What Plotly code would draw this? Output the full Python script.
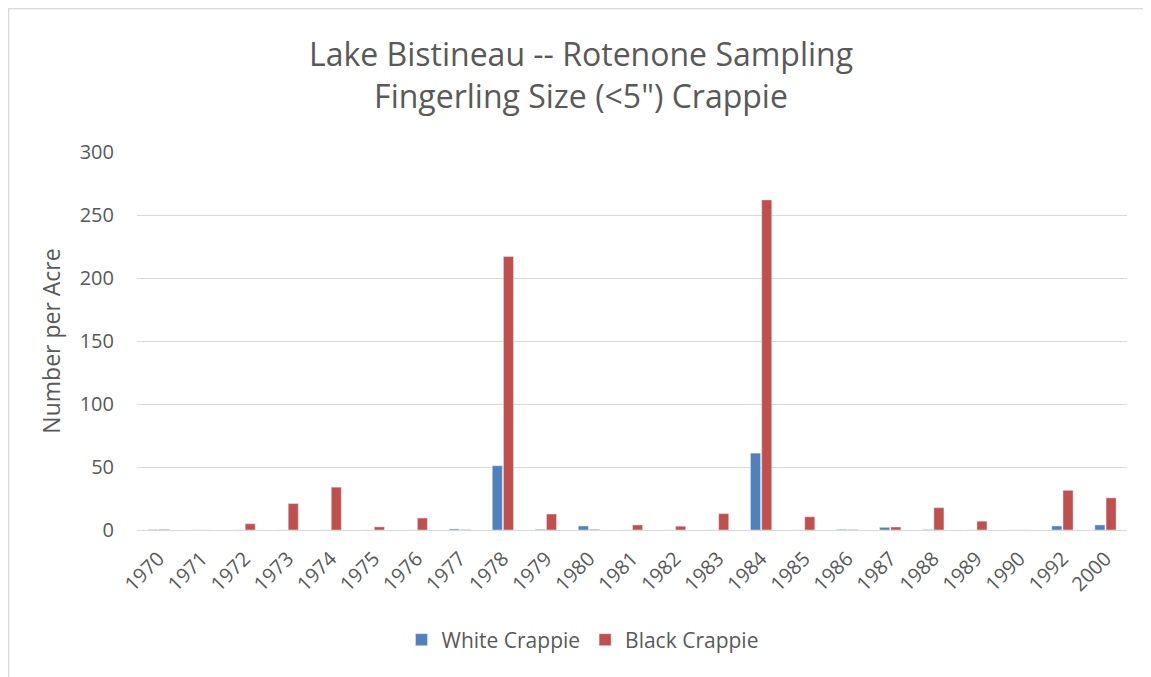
import plotly.graph_objects as go

years = ["1970", "1971", "1972", "1973", "1974", "1975", "1976", "1977", "1978", "1979",
         "1980", "1981", "1982", "1983", "1984", "1985", "1986", "1987", "1988", "1989",
         "1990", "1992", "2000"]
white_crappie = [0.3, 0, 0, 0, 0, 0, 0, 0.8, 51, 0.5,
                 3.2, 0, 0, 0, 61, 0, 0.5, 2.1, 0.3, 0,
                 0, 3.2, 4]
black_crappie = [0.5, 0, 5, 21, 34, 2.5, 9.5, 0.3, 217, 12.7,
                 0.5, 4, 3, 13, 262, 10.5, 0.3, 2.4, 17.7, 7,
                 0, 31.5, 25.5]
y_ticks = [0, 50, 100, 150, 200, 250, 300]

FONT = "Open Sans"
GREY = "#595959"

W, H = 1151, 677
L, T, R, B = 129, 144, 32, 155
PW = W - L - R
PH = H - T - B

fig = go.Figure()
fig.add_trace(go.Bar(name="White Crappie", x=years, y=white_crappie, marker_color="#4F81BD"))
fig.add_trace(go.Bar(name="Black Crappie", x=years, y=black_crappie, marker_color="#C0504D"))

fig.update_layout(
    width=W, height=H,
    paper_bgcolor="white", plot_bgcolor="white",
    margin=dict(l=L, r=R, t=T, b=B, autoexpand=False),
    barmode="group", bargap=0.48, bargroupgap=0.1,
    font=dict(family=FONT, color=GREY),
    title=dict(text="Lake Bistineau -- Rotenone Sampling<br>Fingerling Size (<5\") Crappie",
               x=573 / W, xanchor="center", y=1 - 58 / H, yanchor="middle",
               font=dict(size=32, color=GREY, family=FONT)),
    legend=dict(orientation="h", x=(574.5 - L) / PW, xanchor="center",
                y=-(632 - (T + PH)) / PH, yanchor="middle",
                font=dict(size=21, color=GREY), itemwidth=30),
    yaxis=dict(range=[0, 300], tickvals=y_ticks, showgrid=True, gridcolor="#D9D9D9",
               gridwidth=1, zeroline=False, showline=False, automargin=False,
               tickfont=dict(size=20, color=GREY), ticklabelstandoff=22,
               title=dict(text="Number per Acre", font=dict(size=23, color=GREY), standoff=12)),
    xaxis=dict(showline=True, linecolor="#D9D9D9", linewidth=1, tickangle=-45,
               automargin=False, tickfont=dict(size=20, color=GREY), type="category",
               ticklabelstandoff=8),
    shapes=[dict(type="rect", xref="paper", yref="paper",
                 x0=(0.5 - L) / PW, x1=(W + 20 - L) / PW,
                 y0=-(H + 20 - T - PH) / PH, y1=(T + PH - 0.5) / PH,
                 line=dict(color="#D9D9D9", width=1.5), fillcolor="rgba(0,0,0,0)", layer="below")],
)

fig.write_html("out.html")
